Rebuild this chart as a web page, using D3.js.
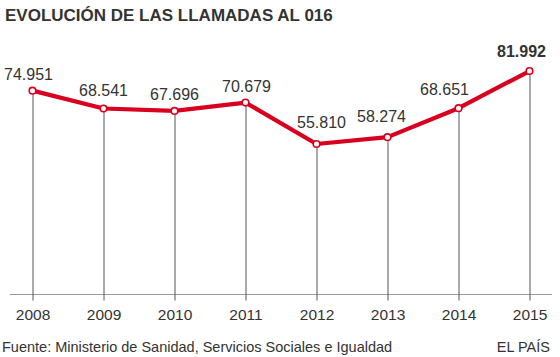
<!DOCTYPE html>
<html><head><meta charset="utf-8">
<script src="https://cdn.jsdelivr.net/npm/d3@7"></script>
<style>body{margin:0;background:#fff}svg{display:block;font-family:"Liberation Sans",Arial,sans-serif}</style>
</head><body><svg id="c" width="560" height="357"></svg>
<script>
const years = ["2008","2009","2010","2011","2012","2013","2014","2015"];
const calls = [74951, 68541, 67696, 70679, 55810, 58274, 68651, 81992];
const valueLabels = ["74.951","68.541","67.696","70.679","55.810","58.274","68.651","81.992"];
const labelNudge = [[-4,-10.6],[0,-12.5],[0,-11],[1,-11],[5,-15.7],[-6,-15.4],[-14,-13],[-8,-14]];

const svg = d3.select("#c");
const x = d3.scalePoint().domain(years).range([32.5, 529.5]);
const y = d3.scaleLinear().domain([0, 90000]).range([299.6, 48.7]);

svg.append("text").attr("x",5).attr("y",21).attr("font-size",17).attr("font-weight","bold")
  .attr("fill","#333").text("EVOLUCIÓN DE LAS LLAMADAS AL 016");

// baseline
svg.append("line").attr("x1",10).attr("x2",552).attr("y1",294.5).attr("y2",294.5)
  .attr("stroke","#9a9a9a").attr("stroke-width",1);

const xAxis = d3.axisBottom(x).tickSize(0).tickPadding(0);
const ax = svg.append("g").attr("transform","translate(0,320)").call(xAxis);
ax.select(".domain").remove();
ax.selectAll("text").attr("font-size",15.5).attr("fill","#333").attr("dy",0)
  .attr("font-family","Liberation Sans, Arial, sans-serif");

// drop lines
svg.selectAll(".drop").data(years).join("line").attr("class","drop")
  .attr("x1",d=>x(d)+0.5).attr("x2",d=>x(d)+0.5)
  .attr("y1",(d,i)=>y(calls[i])).attr("y2",300.5)
  .attr("stroke","#555").attr("stroke-width",1);

const line = d3.line().x((d,i)=>x(years[i])).y(d=>y(d));
svg.append("path").datum(calls).attr("d",line).attr("fill","none")
  .attr("stroke","#d8001e").attr("stroke-width",4.2).attr("stroke-linejoin","round");

svg.selectAll(".pt").data(calls).join("circle").attr("class","pt")
  .attr("cx",(d,i)=>x(years[i])).attr("cy",d=>y(d)).attr("r",3.3)
  .attr("fill","#fff").attr("stroke","#d8001e").attr("stroke-width",1.6);

svg.selectAll(".vl").data(calls).join("text").attr("class","vl")
  .attr("x",(d,i)=>x(years[i])+labelNudge[i][0]).attr("y",(d,i)=>y(d)+labelNudge[i][1])
  .attr("text-anchor","middle").attr("font-size",16).attr("fill","#333")
  .attr("font-weight",(d,i)=>i===calls.length-1?"bold":"normal")
  .text((d,i)=>valueLabels[i]);

svg.append("text").attr("x",2).attr("y",352).attr("font-size",14.5).attr("fill","#333")
  .text("Fuente: Ministerio de Sanidad, Servicios Sociales e Igualdad");
svg.append("text").attr("x",550).attr("y",352).attr("font-size",14.5).attr("fill","#333")
  .attr("text-anchor","end").text("EL PAÍS");
</script></body></html>
